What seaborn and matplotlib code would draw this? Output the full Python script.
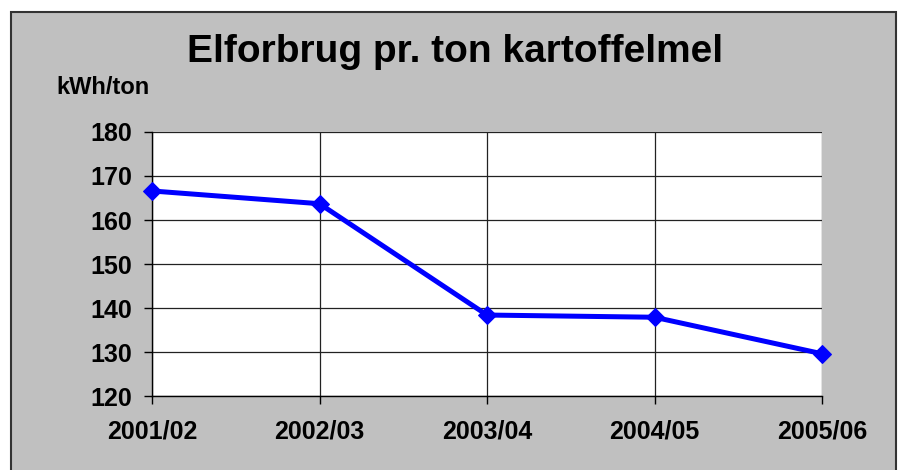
import numpy as np
import pandas as pd
import seaborn as sns
import matplotlib.pyplot as plt
from matplotlib.patches import Rectangle

seasons = ['2001/02', '2002/03', '2003/04', '2004/05', '2005/06']
kwh_per_ton = [166.6, 163.7, 138.4, 137.9, 129.6]
y_ticks = [120, 130, 140, 150, 160, 170, 180]

df = pd.DataFrame({'season': seasons, 'kwh': kwh_per_ton})

sns.set_theme(style='white')
plt.rcParams['font.family'] = ['Liberation Sans', 'DejaVu Sans']
plt.rcParams['font.weight'] = 'bold'

fig = plt.figure(figsize=(9.01, 4.70), dpi=100, facecolor='white')
# grey chart area with dark frame (bottom edge runs off the image)
fig.patches.append(Rectangle((11 / 901, -0.02), 885 / 901, 458 / 470 + 0.02, transform=fig.transFigure,
                             facecolor='#C0C0C0', edgecolor='#333333', linewidth=1.5, zorder=-1))

ax = fig.add_axes([152 / 901, 74 / 470, 670 / 901, 264 / 470])
ax.set_zorder(1)
ax.set_facecolor('white')

sns.lineplot(data=df, x='season', y='kwh', ax=ax, color='#0000FF', linewidth=3.6,
             marker='D', markersize=9.5, markeredgecolor='#0000FF', clip_on=False, zorder=5)

ax.set_xlim(0, 4)
ax.set_ylim(120, 180)
ax.set_yticks(y_ticks)
ax.set_xticks(range(len(seasons)))
ax.set_xticklabels(seasons)
ax.set_xlabel('')
ax.set_ylabel('')

ax.grid(True, color='#222222', linewidth=0.9)
ax.set_axisbelow(True)
for s in ['top', 'right']:
    ax.spines[s].set_visible(False)
for s in ['left', 'bottom']:
    ax.spines[s].set_color('black')
    ax.spines[s].set_linewidth(1.0)

ax.tick_params(axis='both', which='major', direction='out', length=6, width=1,
               color='black', labelsize=18, labelcolor='black', left=True, bottom=True)
ax.tick_params(axis='y', pad=8)
ax.tick_params(axis='x', pad=11)
for lbl in ax.get_xticklabels() + ax.get_yticklabels():
    lbl.set_fontweight('bold')

fig.text(455 / 901, 1 - 52 / 470, 'Elforbrug pr. ton kartoffelmel', ha='center', va='center',
         fontsize=28, fontweight='bold', color='black')
fig.text(103 / 901, 1 - 88 / 470, 'kWh/ton', ha='center', va='center',
         fontsize=17, fontweight='bold', color='black')

fig.savefig('out.png', dpi=100, facecolor=fig.get_facecolor())
